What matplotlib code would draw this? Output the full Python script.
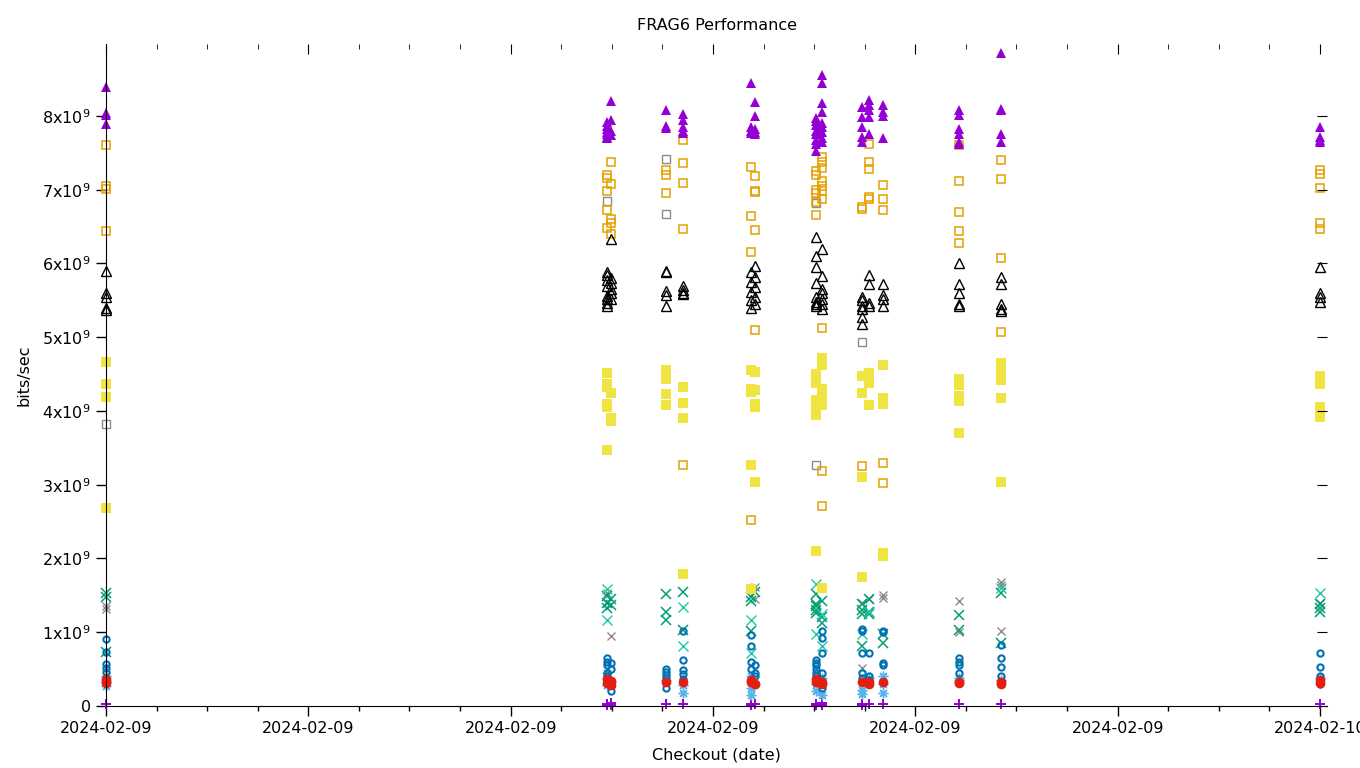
import datetime as dt
import matplotlib
matplotlib.use('Agg')
import matplotlib.pyplot as plt
import matplotlib.dates as mdates
import numpy as np

# checkout times of the runs (one entry per column of points)
runs = ['2024-02-09 18:00:00', '2024-02-09 20:28:40', '2024-02-09 20:29:50',
        '2024-02-09 20:46:05', '2024-02-09 20:51:10', '2024-02-09 21:11:20',
        '2024-02-09 21:12:30', '2024-02-09 21:30:30', '2024-02-09 21:32:20',
        '2024-02-09 21:44:10', '2024-02-09 21:46:20', '2024-02-09 21:50:25',
        '2024-02-09 22:13:00', '2024-02-09 22:25:25', '2024-02-10 00:00:00']

# values in units of 1e9 bits/sec, one list per run
purple_plus = [[0.03], [0.03, 0.02], [0.04, 0.02], [0.03], [0.03], [0.03, 0.02],
               [0.03], [0.03, 0.02], [0.04, 0.02], [0.03, 0.02], [0.03], [0.03],
               [0.03], [0.03], [0.03]]
green_x = [[1.53, 1.48, 0.73], [1.49, 1.40, 1.33], [1.45, 1.37], [1.52, 1.28, 1.17],
           [1.54, 1.03], [1.48, 1.42, 1.02], [1.55], [1.52, 1.38, 1.35, 1.30, 1.26],
           [1.42, 1.20, 1.12], [1.38, 1.30, 1.25, 0.82], [1.45, 1.28, 1.25],
           [0.98, 0.85], [1.24, 1.03], [1.53, 0.85], [1.38, 1.33, 1.28]]
teal_x = [[], [1.59, 1.17], [], [], [1.34, 0.81], [1.17, 0.72], [], [1.66, 0.98],
          [1.25, 0.82], [0.98], [1.28], [], [], [1.60], [1.53]]
gray_x = [[1.36, 1.31], [1.53, 1.40], [0.95], [], [], [], [1.62, 1.45], [], [],
          [1.40, 0.52], [1.45], [1.50, 1.47], [1.42, 1.01], [1.68, 1.64, 1.02], [1.40]]
lblue_star = [[0.41, 0.32, 0.27], [0.45, 0.38, 0.28], [0.33], [0.35], [0.17, 0.28],
              [0.40, 0.25, 0.15], [0.30], [0.30, 0.20], [0.15, 0.38], [0.22, 0.16],
              [0.38], [0.40, 0.30, 0.18], [0.38, 0.35], [0.35], [0.38]]
gray_sq = [[3.82], [6.85], [], [7.42, 6.67], [], [], [], [3.27, 6.82], [], [4.93],
           [], [], [], [], []]
orange_sq = [[7.61, 7.05, 7.01, 6.44], [7.20, 7.16, 6.98, 6.73, 6.48],
             [7.37, 7.08, 6.60, 6.55, 6.40], [7.27, 7.20, 6.96],
             [7.67, 7.36, 7.09, 6.47, 3.27], [7.31, 6.64, 6.16, 2.52],
             [7.18, 6.98, 6.97, 6.45, 5.10], [7.25, 7.20, 7.00, 6.96, 6.83, 6.66],
             [7.45, 7.38, 7.30, 7.12, 7.05, 6.98, 6.87, 5.12, 3.19, 2.71],
             [6.76, 6.74, 3.26], [7.62, 7.37, 7.28, 6.90, 6.88],
             [7.07, 6.88, 6.73, 3.30, 3.03], [7.60, 7.12, 6.70, 6.44, 6.28],
             [7.40, 7.15, 6.07, 5.07], [7.27, 7.22, 7.02, 6.55, 6.47]]
yellow_sq = [[4.66, 4.37, 4.19, 2.68], [4.52, 4.36, 4.32, 4.09, 4.05, 3.47],
             [4.24, 3.90, 3.87], [4.56, 4.43, 4.23, 4.08], [4.33, 4.11, 3.90, 1.79],
             [4.55, 4.30, 4.26, 3.27, 1.58], [4.53, 4.28, 4.10, 4.05, 3.04],
             [4.50, 4.45, 4.38, 4.15, 4.02, 3.98, 3.95, 2.10],
             [4.72, 4.62, 4.30, 4.22, 4.08, 1.60], [4.48, 4.25, 3.10, 1.75],
             [4.52, 4.45, 4.38, 4.08], [4.63, 4.17, 4.10, 2.07, 2.04],
             [4.43, 4.38, 4.35, 4.20, 4.13, 3.70], [4.65, 4.60, 4.50, 4.42, 4.17, 3.04],
             [4.48, 4.42, 4.37, 4.06, 3.92]]
blue_circ = [[0.91, 0.73, 0.57, 0.52, 0.46], [0.65, 0.60, 0.55, 0.45, 0.40],
             [0.58, 0.50, 0.21], [0.50, 0.46, 0.42, 0.38, 0.25],
             [1.02, 0.63, 0.49, 0.43, 0.37], [0.96, 0.82, 0.60, 0.50],
             [0.55, 0.45, 0.40], [0.62, 0.58, 0.55, 0.50, 0.45, 0.40, 0.35],
             [1.02, 0.92, 0.72, 0.45, 0.25], [1.05, 1.02, 0.72, 0.45, 0.38],
             [0.72, 0.35, 0.40], [1.02, 1.00, 0.58, 0.55], [0.65, 0.60, 0.55, 0.45],
             [0.83, 0.65, 0.53, 0.40], [0.72, 0.53, 0.40, 0.35, 0.30]]
red_circ = [[0.37, 0.34, 0.31], [0.36, 0.31], [0.34, 0.29], [0.32], [0.32],
            [0.35, 0.32], [0.30], [0.36, 0.33], [0.33, 0.30], [0.32], [0.32, 0.30],
            [0.32], [0.33, 0.31], [0.33, 0.30], [0.35, 0.31]]
black_tri = [[5.90, 5.60, 5.55, 5.40, 5.37], [5.88, 5.84, 5.77, 5.70, 5.56, 5.52, 5.47, 5.43],
             [6.33, 5.80, 5.74, 5.65, 5.60, 5.52], [5.90, 5.89, 5.63, 5.57, 5.42],
             [5.70, 5.64, 5.60, 5.58], [5.88, 5.75, 5.62, 5.50, 5.40],
             [5.97, 5.82, 5.68, 5.55, 5.45], [6.36, 6.10, 5.95, 5.73, 5.55, 5.48, 5.45, 5.42],
             [6.20, 5.83, 5.66, 5.60, 5.52, 5.45, 5.38], [5.55, 5.50, 5.42, 5.38, 5.28, 5.18],
             [5.85, 5.72, 5.46, 5.42], [5.72, 5.57, 5.52, 5.43],
             [6.00, 5.72, 5.60, 5.45, 5.42], [5.82, 5.72, 5.45, 5.38, 5.36],
             [5.95, 5.60, 5.55, 5.48]]
purple_tri = [[8.39, 8.04, 8.02, 7.89], [7.92, 7.87, 7.82, 7.78, 7.75, 7.72, 7.70],
              [8.20, 7.95, 7.80, 7.74], [8.08, 7.86, 7.84], [8.03, 7.95, 7.85, 7.80, 7.77],
              [8.45, 7.85, 7.80, 7.77], [8.19, 8.00, 7.82, 7.78, 7.76],
              [7.97, 7.93, 7.88, 7.80, 7.75, 7.68, 7.62, 7.52],
              [8.55, 8.45, 8.18, 8.05, 7.90, 7.85, 7.78, 7.70, 7.65],
              [8.12, 7.98, 7.85, 7.72, 7.65], [8.22, 8.15, 8.08, 7.98, 7.75],
              [8.15, 8.05, 8.00, 7.70], [8.08, 8.02, 7.82, 7.75, 7.65, 7.62],
              [8.85, 8.10, 8.08, 7.75, 7.65], [7.85, 7.72, 7.68, 7.65]]

plt.rcParams['font.family'] = 'DejaVu Sans'
plt.rcParams['font.size'] = 11.5

t = mdates.date2num([dt.datetime.strptime(r, '%Y-%m-%d %H:%M:%S') for r in runs])


def flat(series):
    xs, ys = [], []
    for i, vals in enumerate(series):
        xs += [t[i]] * len(vals)
        ys += [v * 1e9 for v in vals]
    return np.array(xs), np.array(ys)


fig = plt.figure(figsize=(13.6, 7.68), dpi=100)
ax = fig.add_axes([106 / 1360, 1 - 706 / 768, 1221 / 1360, 662 / 768])

styles = [
    (purple_plus, dict(marker='+', color='#9400d3', ms=7, mew=1.4)),
    (gray_x, dict(marker='x', color='#8c8c8c', ms=6, mew=1.0)),
    (green_x, dict(marker='x', color='#009e73', ms=6.5, mew=1.1)),
    (teal_x, dict(marker='x', color='#1ec8a8', ms=6.5, mew=1.0)),
    (lblue_star, dict(marker=(8, 2, 0), color='#56b4e9', ms=7, mew=1.0)),
    (gray_sq, dict(marker='s', mfc='none', mec='#8c8c8c', ms=6, mew=1.0)),
    (orange_sq, dict(marker='s', mfc='none', mec='#e69f00', ms=6, mew=1.1)),
    (yellow_sq, dict(marker='s', color='#f0e442', ms=7, mew=0)),
    (blue_circ, dict(marker='o', mfc='none', mec='#0072b2', ms=4.5, mew=1.5)),
    (red_circ, dict(marker='o', color='#e51e10', ms=7, mew=0)),
    (black_tri, dict(marker='^', mfc='none', mec='black', ms=7, mew=1.0)),
    (purple_tri, dict(marker='^', color='#9400d3', ms=7, mew=0)),
]
for series, kw in styles:
    xs, ys = flat(series)
    ax.plot(xs, ys, linestyle='none', clip_on=False, **kw)

x0 = mdates.date2num(dt.datetime(2024, 2, 9, 18, 0))
x1 = x0 + (1221 / 202.33) / 24
ax.set_xlim(x0, x1)
ax.set_ylim(0, 8.976e9)

ax.xaxis.set_major_locator(mdates.HourLocator())
ax.xaxis.set_minor_locator(mdates.MinuteLocator(byminute=[15, 30, 45]))
ax.xaxis.set_major_formatter(mdates.DateFormatter('%Y-%m-%d'))
yt = np.arange(0, 9) * 1e9
ax.set_yticks(yt)
ax.set_yticklabels(['0'] + [r'%dx10$^{9}$' % i for i in range(1, 9)])
ax.tick_params(axis='both', which='major', direction='out', length=7, width=1, pad=4)
ax.tick_params(axis='x', which='minor', direction='out', length=3.5, width=1)
for s in ['top', 'right']:
    ax.spines[s].set_visible(False)

# mirrored ticks on top and right, pointing inward
axt = ax.twiny()
axt.set_xlim(x0, x1)
axt.xaxis.set_major_locator(mdates.HourLocator())
axt.xaxis.set_minor_locator(mdates.MinuteLocator(byminute=[15, 30, 45]))
axt.tick_params(axis='x', which='major', direction='in', length=7, labeltop=False)
axt.tick_params(axis='x', which='minor', direction='in', length=3.5)
axr = ax.twinx()
axr.set_ylim(0, 8.976e9)
axr.set_yticks(yt)
axr.tick_params(axis='y', direction='in', length=7, labelright=False)
for a in (axt, axr):
    for s in a.spines.values():
        s.set_visible(False)

ax.set_xlabel('Checkout (date)', labelpad=8)
ax.set_ylabel('bits/sec', labelpad=8)
ax.set_title('FRAG6 Performance', fontsize=11.5, pad=10)

fig.savefig('out.png', dpi=100)
